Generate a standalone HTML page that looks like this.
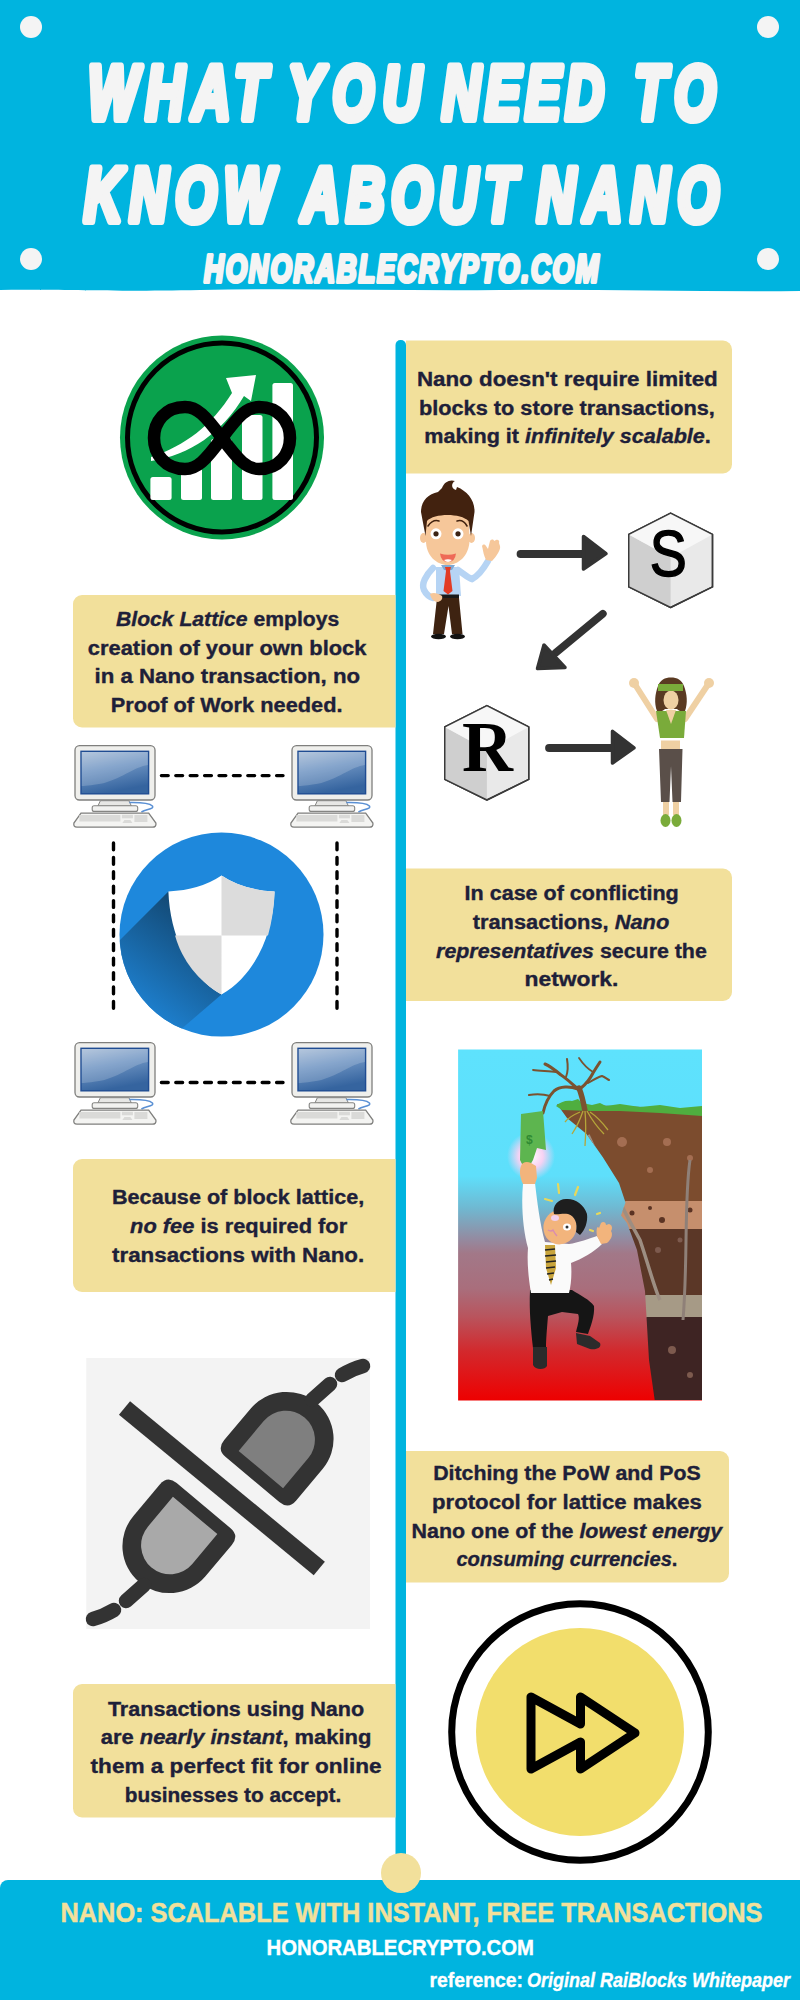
<!DOCTYPE html>
<html><head><meta charset="utf-8">
<style>
html,body{margin:0;padding:0;background:#fff;width:800px;height:2000px;overflow:hidden}
svg{display:block}
.t{font-family:"Liberation Sans",sans-serif;font-weight:bold;fill:#1e2039;font-size:20px;stroke:#1e2039;stroke-width:0.35px}
.i{font-style:italic}
</style></head><body>
<svg width="800" height="2000" viewBox="0 0 800 2000">
<!-- HEADER -->
<path d="M0 0H800V291C700 292 600 289 500 290C400 291 300 288 200 290C100 292 50 289 0 290Z" fill="#00b4df"/>
<g fill="#f4f4f4">
<circle cx="31" cy="27" r="11"/><circle cx="768" cy="27" r="11"/>
<circle cx="31" cy="259" r="11"/><circle cx="768" cy="259" r="11"/>
</g>
<g font-family="Liberation Sans" font-weight="bold" font-style="italic" fill="#f4f4f4" stroke="#f4f4f4" stroke-linejoin="round">
<text transform="translate(88.0 0) scale(0.7 1)" y="119.5" font-size="76" stroke-width="8" textLength="255.0" lengthAdjust="spacing">WHAT</text>
<text transform="translate(288.0 0) scale(0.7 1)" y="119.5" font-size="76" stroke-width="8" textLength="190.1" lengthAdjust="spacing">YOU</text>
<text transform="translate(442.0 0) scale(0.7 1)" y="119.5" font-size="76" stroke-width="8" textLength="231.4" lengthAdjust="spacing">NEED</text>
<text transform="translate(634.0 0) scale(0.7 1)" y="119.5" font-size="76" stroke-width="8" textLength="116.5" lengthAdjust="spacing">TO</text>
<text transform="translate(84.0 0) scale(0.7 1)" y="221" font-size="76" stroke-width="8" textLength="271.5" lengthAdjust="spacing">KNOW</text>
<text transform="translate(301.5 0) scale(0.7 1)" y="221" font-size="76" stroke-width="8" textLength="307.0" lengthAdjust="spacing">ABOUT</text>
<text transform="translate(537.0 0) scale(0.7 1)" y="221" font-size="76" stroke-width="8" textLength="260.0" lengthAdjust="spacing">NANO</text>
<text transform="translate(204 0) scale(0.72 1)" y="282.5" font-size="38" stroke-width="4" textLength="548" lengthAdjust="spacing">HONORABLECRYPTO.COM</text>
</g>

<!-- TIMELINE -->
<rect x="395.5" y="340" width="10.5" height="1530" rx="5" fill="#00b4df"/>

<!-- BOXES -->
<g fill="#f2e09b">
<path d="M406 340.5H723a9 9 0 0 1 9 9V464.5a9 9 0 0 1 -9 9H406Z"/>
<path d="M395.5 595H82a9 9 0 0 0 -9 9V718.5a9 9 0 0 0 9 9H395.5Z"/>
<path d="M406 868.5H723a9 9 0 0 1 9 9V992a9 9 0 0 1 -9 9H406Z"/>
<path d="M395.5 1159H82a9 9 0 0 0 -9 9V1283a9 9 0 0 0 9 9H395.5Z"/>
<path d="M406 1451H720a9 9 0 0 1 9 9V1573.5a9 9 0 0 1 -9 9H406Z"/>
<path d="M395.5 1684H82a9 9 0 0 0 -9 9V1808.5a9 9 0 0 0 9 9H395.5Z"/>
</g>

<g class="t">
<text x="416.9" y="386" textLength="300.9" lengthAdjust="spacingAndGlyphs">Nano doesn't require limited</text>
<text x="418.9" y="414.7" textLength="296.0" lengthAdjust="spacingAndGlyphs">blocks to store transactions,</text>
<text x="424.3" y="443.4" textLength="286.5" lengthAdjust="spacingAndGlyphs">making it <tspan class="i">infinitely scalable</tspan>.</text>
<text x="116.0" y="626.2" textLength="223.2" lengthAdjust="spacingAndGlyphs"><tspan class="i">Block Lattice</tspan> employs</text>
<text x="87.8" y="654.5" textLength="278.7" lengthAdjust="spacingAndGlyphs">creation of your own block</text>
<text x="94.6" y="683" textLength="265.5" lengthAdjust="spacingAndGlyphs">in a Nano transaction, no</text>
<text x="110.7" y="711.9" textLength="231.8" lengthAdjust="spacingAndGlyphs">Proof of Work needed.</text>
<text x="464.6" y="900.3" textLength="214.1" lengthAdjust="spacingAndGlyphs">In case of conflicting</text>
<text x="472.7" y="929.2" textLength="196.6" lengthAdjust="spacingAndGlyphs">transactions, <tspan class="i">Nano</tspan></text>
<text x="436.1" y="957.7" textLength="270.7" lengthAdjust="spacingAndGlyphs"><tspan class="i">representatives</tspan> secure the</text>
<text x="524.5" y="985.8" textLength="93.9" lengthAdjust="spacingAndGlyphs">network.</text>
<text x="112.0" y="1204" textLength="252.2" lengthAdjust="spacingAndGlyphs">Because of block lattice,</text>
<text x="130.1" y="1233" textLength="217.1" lengthAdjust="spacingAndGlyphs"><tspan class="i">no fee</tspan> is required for</text>
<text x="112.0" y="1261.8" textLength="252.2" lengthAdjust="spacingAndGlyphs">transactions with Nano.</text>
<text x="433.2" y="1480.3" textLength="267.5" lengthAdjust="spacingAndGlyphs">Ditching the PoW and PoS</text>
<text x="432.0" y="1509.2" textLength="269.9" lengthAdjust="spacingAndGlyphs">protocol for lattice makes</text>
<text x="411.6" y="1537.7" textLength="310.7" lengthAdjust="spacingAndGlyphs">Nano one of the <tspan class="i">lowest energy</tspan></text>
<text x="456.4" y="1565.8" textLength="221.1" lengthAdjust="spacingAndGlyphs"><tspan class="i">consuming currencies</tspan>.</text>
<text x="107.9" y="1716.2" textLength="256.3" lengthAdjust="spacingAndGlyphs">Transactions using Nano</text>
<text x="100.7" y="1744.3" textLength="270.7" lengthAdjust="spacingAndGlyphs">are <tspan class="i">nearly instant</tspan>, making</text>
<text x="90.6" y="1772.5" textLength="290.9" lengthAdjust="spacingAndGlyphs">them a perfect fit for online</text>
<text x="124.8" y="1801.9" textLength="216.4" lengthAdjust="spacingAndGlyphs">businesses to accept.</text>
</g>

<!-- FOOTER -->
<path d="M8 1880H800V2000H0V1888A8 8 0 0 1 8 1880Z" fill="#00b4df"/>
<circle cx="401" cy="1873" r="20" fill="#f2e09b"/>
<g font-family="Liberation Sans" font-weight="bold">
<text x="60.5" y="1921.5" font-size="26.8" fill="#f2e09b" stroke="#f2e09b" stroke-width="0.5" textLength="702" lengthAdjust="spacingAndGlyphs">NANO: SCALABLE WITH INSTANT, FREE TRANSACTIONS</text>
<text x="266.5" y="1954.6" font-size="21.8" fill="#fff" stroke="#fff" stroke-width="0.4" textLength="267.5" lengthAdjust="spacingAndGlyphs">HONORABLECRYPTO.COM</text>
<text x="429.5" y="1986.5" font-size="19.5" fill="#fff" stroke="#fff" stroke-width="0.35" textLength="93.5" lengthAdjust="spacingAndGlyphs">reference:</text>
<text x="527" y="1986.5" font-size="19.5" font-style="italic" fill="#fff" stroke="#fff" stroke-width="0.35" textLength="263" lengthAdjust="spacingAndGlyphs">Original RaiBlocks Whitepaper</text>
</g>

<!-- ILLUSTRATIONS -->
<!-- infinity circle -->
<g>
<circle cx="222" cy="437.5" r="102" fill="#0aa24d"/>
<circle cx="222" cy="437.5" r="94.5" fill="none" stroke="#000" stroke-width="5"/>
<g fill="#fff">
<rect x="150.4" y="477" width="21.2" height="23" rx="2.5"/>
<rect x="181" y="466" width="21" height="34" rx="2.5"/>
<rect x="211" y="439" width="21" height="61" rx="2.5"/>
<rect x="242" y="415" width="20.5" height="85" rx="2.5"/>
<rect x="272.4" y="383" width="20.6" height="117" rx="2.5"/>
<path d="M151 457C185 446 212 425 232 393L226 378L256 375L251 401L244 396C222 433 190 455 151 461Z"/>
</g>
<path d="M222,438 C205,415 197,407 185,407 C165,407 154,422 154,438 C154,454 165,469 185,469 C197,469 205,461 222,438 C239,415 247,407 259,407 C279,407 290,422 290,438 C290,454 279,469 259,469 C247,469 239,461 222,438Z" fill="none" stroke="#000" stroke-width="12.5"/>
</g>

<!-- arrows -->
<g fill="#333" stroke="#333" stroke-linejoin="round" stroke-linecap="round">
<path d="M520.6 554H583" stroke-width="8" fill="none"/>
<path d="M583.5 536.5L606 553.6L583.5 569Z" stroke-width="3.5"/>
<path d="M549.1 747.9H612" stroke-width="8" fill="none"/>
<path d="M612.5 731.3L634 747.9L612.5 763Z" stroke-width="3.5"/>
<path d="M602.9 613.75L555.4 653" stroke-width="7.6" fill="none"/>
<path d="M544 645L537.5 668.5L565 667.5Z" stroke-width="3.5"/>
</g>


<!-- businessman -->
<g>
<path d="M433 568C426 575 421 584 424 590C426 594 430 597 433 598" fill="none" stroke="#b6d4f4" stroke-width="6.5" stroke-linecap="round"/>
<path d="M458 570C464 574 468 578 472 579C478 576 484 568 488 561" fill="none" stroke="#b6d4f4" stroke-width="6.5" stroke-linecap="round"/>
<path d="M482.5 548C481 545 484 543 486 546L488 549L490 541C491 539 494 539 494 541L496 540C498 539 500 541 499 543L500 546C501 549 497 556 492 561L486 560C484 556 483 551 482.5 548Z" fill="#f6c79a"/>
<path d="M436 567H459L461 596H436Z" fill="#b6d4f4"/>
<path d="M441 565H455L452 570H444Z" fill="#7fa9d3"/>
<path d="M445 567H451L450 571L452.5 591L448 594.5L443.5 591L446 571Z" fill="#e23c25"/>
<rect x="437" y="594.5" width="22" height="3.5" fill="#1a1a1a"/>
<path d="M437 598H459L462.5 634H452L448.5 606L444 634H433Z" fill="#3e2311"/>
<ellipse cx="438.5" cy="636.5" rx="7.5" ry="2.8" fill="#111"/>
<ellipse cx="457.5" cy="636.5" rx="7.5" ry="2.8" fill="#111"/>
<path d="M430 594C433 592 438 593 442 596C443 599 441 601 438 602C434 602 431 599 430 594Z" fill="#f6c79a"/>
<ellipse cx="423.5" cy="538" rx="3.5" ry="5" fill="#f6c79a"/>
<ellipse cx="471.5" cy="538" rx="3.5" ry="5" fill="#f6c79a"/>
<path d="M426 520C428 510 467 510 469 520L469.5 541C469 556 458 565 447.5 565C437 565 426 556 426 541Z" fill="#f6c79a"/>
<path d="M421 512C421 501 428 494 438 492L442 488C444 482 450 479 455 481C451 483 451 489 456 490L457 487C467 491 475 500 474.5 512L471 536L468.5 521C461 513 434 513 427 521L425.5 536Z" fill="#42220f"/>
<g fill="#fff"><circle cx="436" cy="533.8" r="5.5"/><circle cx="458" cy="533.8" r="5.5"/></g>
<g fill="#3b2314"><circle cx="436" cy="533.8" r="2.6"/><circle cx="458" cy="533.8" r="2.6"/></g>
<path d="M428 526Q433 519 439 521M457 521Q463 519 467 526" fill="none" stroke="#42220f" stroke-width="1.6" stroke-linecap="round"/>
<path d="M440 553.5Q448 556 456 553.5Q455 562 448 562Q441 562 440 553.5Z" fill="#ee6a57"/>
<path d="M444 560Q448 558.5 452 560Q450 562 448 562Q446 562 444 560Z" fill="#fff"/>
</g>

<!-- woman -->
<g>
<path d="M657 719L636 686M685 719L707 686" fill="none" stroke="#efd0a3" stroke-width="6" stroke-linecap="round"/>
<circle cx="634" cy="683" r="5" fill="#efd0a3"/><circle cx="709" cy="683" r="5" fill="#efd0a3"/>
<path d="M657 711C654 703 655 694 658 686C660 680 665 677.5 671 677.5C677 677.5 682 680 684 686C687 694 688 703 685 711C682 712.5 679 711 677 709H665C663 711 660 712.5 657 711Z" fill="#5a3a22"/>
<ellipse cx="671" cy="700" rx="7.5" ry="9.5" fill="#efd0a3"/>
<rect x="658" y="684" width="25" height="7" fill="#7aab3a"/>
<path d="M656 711H686L684 738H660Z" fill="#7aab3a"/>
<path d="M666 710H676L671 724Z" fill="#efd0a3"/>
<rect x="661" y="740.5" width="19" height="9" fill="#efd0a3"/>
<path d="M659 749H682.5L681 802H672.5L671 766L669.5 802H661Z" fill="#5a4f49"/>
<rect x="663" y="802" width="6" height="13" fill="#efd0a3"/>
<rect x="673" y="802" width="6" height="13" fill="#efd0a3"/>
<ellipse cx="665.5" cy="820.5" rx="5" ry="6.5" fill="#7aab3a"/>
<ellipse cx="676.5" cy="820.5" rx="5" ry="6.5" fill="#7aab3a"/>
</g>


<!-- network -->
<defs>
<linearGradient id="scr" x1="0" y1="0" x2="0.3" y2="1">
<stop offset="0" stop-color="#a7bcd6"/><stop offset="0.45" stop-color="#6d93c2"/><stop offset="1" stop-color="#35649f"/>
</linearGradient>
<linearGradient id="shadow" x1="200" y1="920" x2="140" y2="1000" gradientUnits="userSpaceOnUse">
<stop offset="0" stop-color="#134a76"/><stop offset="1" stop-color="#1d7dca"/>
</linearGradient>
<clipPath id="cc"><circle cx="221.5" cy="934.6" r="102"/></clipPath>
<g id="pc">
<rect x="0.6" y="0.6" width="80" height="54.4" rx="4.5" fill="#efefec" stroke="#7f7f7d" stroke-width="1.3"/>
<rect x="6.6" y="6.3" width="67.6" height="42.5" fill="url(#scr)" stroke="#1f4c92" stroke-width="1.4"/>
<path d="M7.3 7H73.5V20C60 22 50 32 30 38C20 40 12 41 7.3 41Z" fill="#fff" opacity="0.18"/>
<path d="M26 55.7H54.5L57 61H23.5Z" fill="#e7e7e5" stroke="#858583" stroke-width="1"/>
<rect x="17.8" y="60.8" width="45.5" height="5.6" rx="2" fill="#f2f2f0" stroke="#858583" stroke-width="1.1"/>
<path d="M55 57.5C62 57.5 74 57 78 61C80 64 72 64 67 67" fill="none" stroke="#5a90d4" stroke-width="1.5"/>
<path d="M6.6 68.2H74.3L81.5 78C82 81 80.5 82.2 78 82.2H2.6C0 82.2 -1 81 -0.5 78Z" fill="#f4f4f2" stroke="#7f7f7d" stroke-width="1.3"/>
<rect x="5" y="70" width="41" height="6.5" fill="#dadad8"/>
<rect x="47.5" y="69.8" width="11" height="3.5" fill="#dadad8"/>
<rect x="60" y="70" width="13" height="7" fill="#dadad8"/>
<path d="M48 78L50 75H56L58 78Z" fill="#dadad8"/>
</g>
</defs>
<use href="#pc" x="74.4" y="745"/>
<use href="#pc" x="291.4" y="745"/>
<use href="#pc" x="74.4" y="1042"/>
<use href="#pc" x="291.4" y="1042"/>
<g stroke="#000" stroke-width="3.4" stroke-linecap="round" fill="none" stroke-dasharray="6.8 7.6">
<path d="M161.4 775.6H283"/>
<path d="M161.4 1082.5H283"/>
<path d="M113.5 843V1010"/>
<path d="M337 843V1010"/>
</g>
<circle cx="221.5" cy="934.6" r="102" fill="#1e88dc"/>
<path d="M168.4 891.4L40 1020L110 1090L221.5 994.6Z" fill="url(#shadow)" clip-path="url(#cc)"/>
<path d="M168.4 891.4Q200 890 221.5 875.5Q243 890 274.6 891.4C273 935 255 975 221.5 994.6C188 975 170 935 168.4 891.4Z" fill="#fff"/>
<path d="M221.5 875.5Q243 890 274.6 891.4C274.3 906 272 921 268 935.5H221.5Z" fill="#dcdcdc"/>
<path d="M175 935.5H221.5V994.6C198 981 182 960 175 935.5Z" fill="#dcdcdc"/>


<!-- cliff -->
<defs>
<linearGradient id="sky" x1="0" y1="1049.5" x2="0" y2="1401" gradientUnits="userSpaceOnUse">
<stop offset="0" stop-color="#5ee2fd"/>
<stop offset="0.36" stop-color="#5edffb"/>
<stop offset="0.45" stop-color="#6fb9d2"/>
<stop offset="0.54" stop-color="#948aa0"/>
<stop offset="0.58" stop-color="#a27888"/>
<stop offset="0.68" stop-color="#a96e7c"/>
<stop offset="0.76" stop-color="#b9545d"/>
<stop offset="0.86" stop-color="#d3282c"/>
<stop offset="1" stop-color="#ee0000"/>
</linearGradient>
<radialGradient id="glow" cx="531" cy="1156" r="24" gradientUnits="userSpaceOnUse">
<stop offset="0" stop-color="#fff"/><stop offset="0.5" stop-color="#f7d2f3"/><stop offset="1" stop-color="#f7d2f3" stop-opacity="0"/>
</radialGradient>
<clipPath id="cl"><path d="M557 1104L702 1109V1400H654.7L649 1360L645 1291L637 1250L627 1223L621 1215.5L625.5 1202.5L619 1183L602.7 1157L586.5 1134L567 1118Z"/></clipPath>
</defs>
<rect x="458.1" y="1049.5" width="243.9" height="351" fill="url(#sky)"/>

<g clip-path="url(#cl)">
<rect x="540" y="1100" width="170" height="102" fill="#7c4c2e"/>
<rect x="540" y="1201" width="170" height="29" fill="#c68f6d"/>
<rect x="540" y="1229" width="170" height="67" fill="#5b3727"/>
<rect x="540" y="1295" width="170" height="23" fill="#a69a86"/>
<rect x="540" y="1317" width="170" height="90" fill="#3e2423"/>
<g fill="#a46e52"><circle cx="622" cy="1142" r="5"/><circle cx="667" cy="1142" r="4"/><circle cx="650" cy="1170" r="3"/><circle cx="690" cy="1158" r="3"/></g>
<g fill="#5b3323"><circle cx="632" cy="1213" r="2.5"/><circle cx="662" cy="1220" r="3"/><circle cx="690" cy="1210" r="2.5"/><circle cx="650" cy="1208" r="2"/></g>
<g fill="#7d5a4e"><circle cx="658" cy="1250" r="3"/><circle cx="680" cy="1240" r="2.5"/><circle cx="672" cy="1350" r="4"/><circle cx="690" cy="1375" r="3"/></g>
<path d="M588 1135C600 1160 612 1190 640 1240C650 1270 655 1290 660 1300" fill="none" stroke="#9d8e82" stroke-width="3.5"/>
<path d="M690 1160C684 1200 688 1260 683 1320" fill="none" stroke="#8f8078" stroke-width="3"/>
</g>
<path d="M556 1106C560 1102 566 1100 572 1101L578 1099L582 1103L592 1105L600 1103L606 1106L620 1104L640 1107L660 1105L680 1108L702 1106V1116L660 1113L620 1111L590 1111L562 1110Z" fill="#4fae3f"/>
<g fill="none" stroke="#7b5230" stroke-linecap="round">
<path d="M585 1111C583 1100 581 1093 579 1088" stroke-width="5.5"/>
<path d="M578 1089C570 1086 560 1086 554 1091C549 1096 545 1104 543 1113" stroke-width="3"/>
<path d="M550 1096C543 1094 536 1094 529 1095" stroke-width="2"/>
<path d="M577 1088C572 1084 566 1078 561 1075C555 1070 550 1066 545 1064" stroke-width="3"/>
<path d="M556 1072C549 1071 540 1071 533 1070" stroke-width="1.8"/>
<path d="M566 1077C568 1072 568 1065 567 1059" stroke-width="2"/>
<path d="M581 1088C586 1084 590 1079 593 1073C596 1068 598 1065 600 1062" stroke-width="3"/>
<path d="M593 1072C588 1069 583 1064 579 1058" stroke-width="1.8"/>
<path d="M588 1083C593 1080 598 1077 602 1076C605 1077 607 1079 609 1080" stroke-width="2"/>
</g>
<path d="M583 1111C580 1120 576 1128 572 1134M585 1111C586 1122 586 1132 585 1146M587 1111C592 1120 598 1128 604 1134M580 1112C573 1115 568 1118 565 1122M590 1112C596 1116 602 1122 608 1130" fill="none" stroke="#b5a53a" stroke-width="1.3"/>
<circle cx="531" cy="1156" r="24" fill="url(#glow)"/>
<path d="M521 1114L543 1111L546 1150L537 1148L533 1160L526 1172L520 1160Z" fill="#5db54f"/>
<text x="526" y="1144" font-family="Liberation Sans" font-weight="bold" font-size="12" fill="#2f8a33">$</text>
<!-- falling man -->
<path d="M530 1290H572C580 1295 590 1300 594 1306C595 1316 590 1328 588 1334L576 1332C578 1324 580 1318 578 1314L562 1312L548 1316C547 1328 546 1340 546 1348H533C531 1330 529 1310 530 1290Z" fill="#151515"/>
<path d="M533 1347H547L547 1366C545 1370 535 1370 533 1365Z" fill="#2b2b2b"/>
<path d="M576 1333L590 1336L600 1343C602 1348 596 1350 590 1349L577 1344Z" fill="#2b2b2b"/>
<path d="M523 1184L535 1183C537 1200 540 1225 545 1242L569 1244C578 1243 590 1238 597 1236L602 1244C594 1252 582 1259 571 1263C572 1275 571 1285 569 1293H531C528 1275 527 1260 528 1248C523 1230 521 1205 523 1184Z" fill="#fafafa"/>
<path d="M521 1166C522 1162 527 1161 531 1163L536 1166L537 1178L535 1184L523 1184C520 1178 519 1171 521 1166Z" fill="#f2b47c"/>
<path d="M597 1236C596 1230 597 1225 599 1228L601 1223C603 1221 606 1222 606 1225L609 1224C612 1225 613 1228 611 1231C613 1234 612 1239 607 1243L601 1244Z" fill="#f2b47c"/>
<path d="M545 1245L555 1245L556 1268L551 1285L546 1268Z" fill="#c9a53c"/>
<path d="M545 1250L555 1249M545 1256L556 1255M546 1262L556 1261M546 1268L555 1267M547 1274L554 1273M549 1280L553 1279" stroke="#222" stroke-width="1.6"/>
<ellipse cx="560" cy="1227" rx="16.5" ry="17.5" transform="rotate(20 560 1227)" fill="#f2b47c"/>
<path d="M554 1214C552 1206 558 1199 566 1199C574 1198 584 1204 587 1214C588 1222 585 1230 580 1235L576 1232C578 1224 575 1216 568 1214C562 1213 558 1215 554 1214Z" fill="#1e1e1e"/>
<ellipse cx="555" cy="1218" rx="4" ry="3" fill="#f0d0ee"/>
<ellipse cx="567" cy="1227" rx="4" ry="3.5" fill="#fff"/>
<circle cx="567" cy="1227" r="1.5" fill="#333"/>
<path d="M548 1230Q551 1232 553 1230Q555 1234 557 1236" fill="none" stroke="#d98bb0" stroke-width="1.4"/>
<g stroke="#e8d85a" stroke-width="2.2" stroke-linecap="round"><path d="M558 1184L559 1193M578 1187L575 1195M545 1199L552 1201M597 1214L600 1213M590 1230L593 1231"/></g>
<!-- unplug -->
<rect x="86.3" y="1358" width="283.7" height="271" fill="#f3f3f3"/>
<path d="M124.5 1407.9L319.3 1568.5" stroke="#333" stroke-width="17.5"/>
<g id="plug">
<g transform="translate(252.5,1479.5) rotate(-50)">
<path d="M0 -35Q0 -47 12 -47H53A47 47 0 0 1 53 47H12Q0 47 0 35Z" fill="#333"/>
<path d="M13 -29H52A29 29 0 0 1 52 29H13Z" fill="#7f7f7f"/>
</g>
<path d="M312 1400L330 1384M342 1375Q352 1369 363 1366" stroke="#333" stroke-width="14.5" stroke-linecap="round" fill="none"/>
</g>
<g transform="rotate(180 228 1492.5)">
<g transform="translate(252.5,1479.5) rotate(-50)">
<path d="M0 -35Q0 -47 12 -47H53A47 47 0 0 1 53 47H12Q0 47 0 35Z" fill="#333"/>
<path d="M13 -29H52A29 29 0 0 1 52 29H13Z" fill="#a9a9a9"/>
</g>
<path d="M312 1400L330 1384M342 1375Q352 1369 363 1366" stroke="#333" stroke-width="14.5" stroke-linecap="round" fill="none"/>
</g>

<!-- fast forward -->
<circle cx="580" cy="1732" r="128.3" fill="#fff" stroke="#000" stroke-width="7"/>
<circle cx="580" cy="1732" r="104" fill="#f2de6c"/>
<path d="M580.5 1724L531 1697L531 1769L580.5 1742L580.5 1769L635 1733L580.5 1697Z" fill="none" stroke="#000" stroke-width="9" stroke-linejoin="round"/>

<!-- cubes -->
<g stroke="#3a3a3a" stroke-width="1.5" stroke-linejoin="round">
<path d="M670.6 513.1L712.5 534.4V586.9L670.6 607.5L628.75 586.9V534.4Z" fill="#e9e9e9"/>
<path d="M670.6 557.5L628.75 534.4V586.9L670.6 607.5Z" fill="#cfcfcf" stroke="none"/>
<path d="M670.6 557.5L628.75 534.4L670.6 513.1L712.5 534.4Z" fill="#f7f7f7" stroke="none"/>
<path d="M670.6 513.1L712.5 534.4V586.9L670.6 607.5L628.75 586.9V534.4Z" fill="none"/>
<path d="M486.9 705.6L528.75 726.9V779.4L486.9 800L444.75 779.4V726.9Z" fill="#e9e9e9"/>
<path d="M486.9 750L444.75 726.9V779.4L486.9 800Z" fill="#cfcfcf" stroke="none"/>
<path d="M486.9 750L444.75 726.9L486.9 705.6L528.75 726.9Z" fill="#f7f7f7" stroke="none"/>
<path d="M486.9 705.6L528.75 726.9V779.4L486.9 800L444.75 779.4V726.9Z" fill="none"/>
</g>
<text x="649.8" y="576" font-family="Liberation Sans" font-size="64" stroke="#000" stroke-width="1.5" textLength="37" lengthAdjust="spacingAndGlyphs">S</text>
<text x="462" y="770.6" font-family="Liberation Serif" font-weight="bold" font-size="72" textLength="51" lengthAdjust="spacingAndGlyphs">R</text>

</svg>
</body></html>
